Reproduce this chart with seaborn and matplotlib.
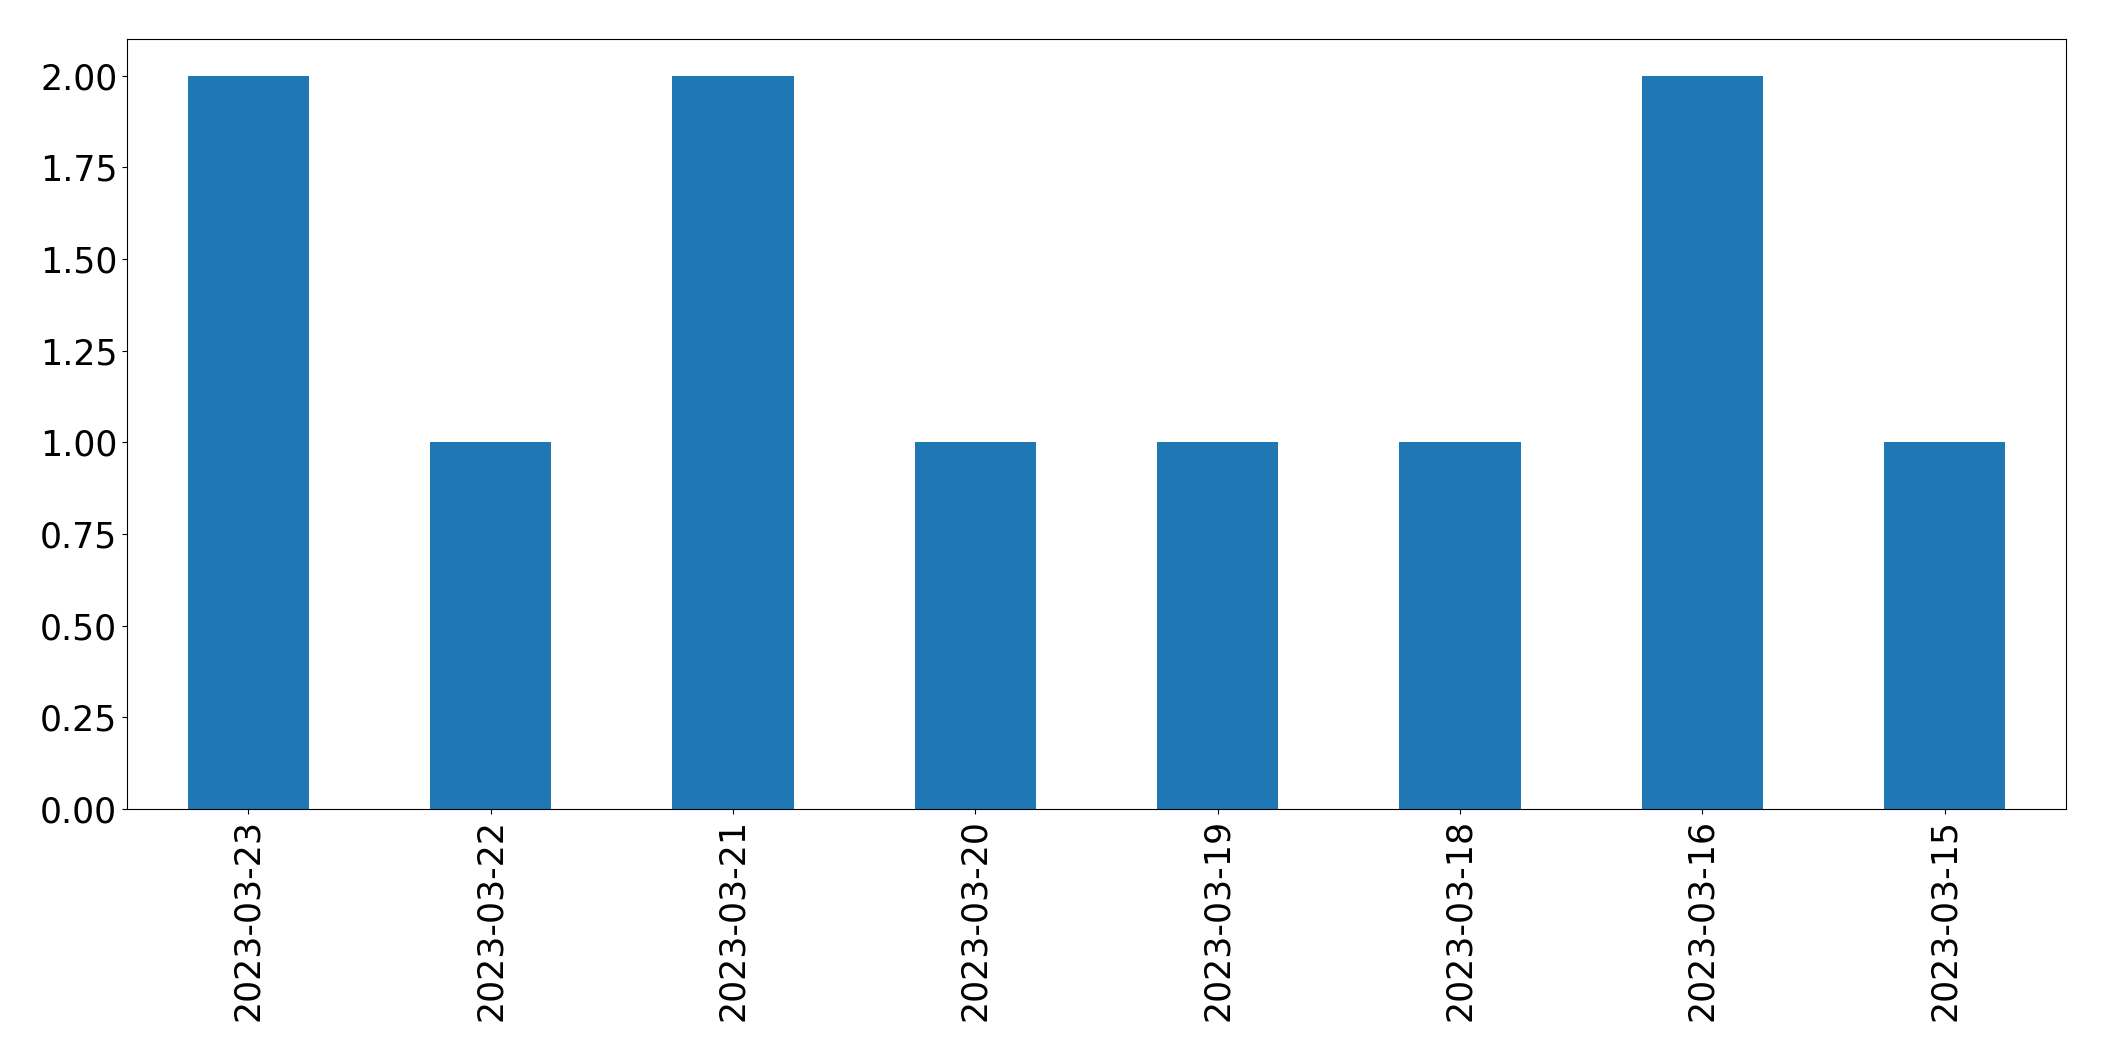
import matplotlib
matplotlib.use("Agg")
import matplotlib.pyplot as plt
import seaborn as sns
import pandas as pd

# dates (as shown, newest first) and counts
dates = ["2023-03-23", "2023-03-22", "2023-03-21", "2023-03-20",
         "2023-03-19", "2023-03-18", "2023-03-16", "2023-03-15"]
counts = [2, 1, 2, 1, 1, 1, 2, 1]

df = pd.DataFrame({"date": dates, "count": counts})

fig = plt.figure(figsize=(21.04, 10.61), dpi=100)
ax = fig.add_axes([0.0604, 0.2375, 0.9215, 0.7257])

sns.barplot(data=df, x="date", y="count", order=dates, color="#1f77b4",
            saturation=1, width=0.5, ax=ax)

ax.set_xlim(-0.5, len(dates) - 0.5)
ax.set_ylim(0, 2.1)
ax.set_yticks([0, 0.25, 0.5, 0.75, 1.0, 1.25, 1.5, 1.75, 2.0])
ax.set_yticklabels([f"{v:.2f}" for v in ax.get_yticks()])
ax.set_xlabel("")
ax.set_ylabel("")
ax.tick_params(axis="both", labelsize=25)
plt.setp(ax.get_xticklabels(), rotation=90)

fig.savefig("out.png", dpi=100)
